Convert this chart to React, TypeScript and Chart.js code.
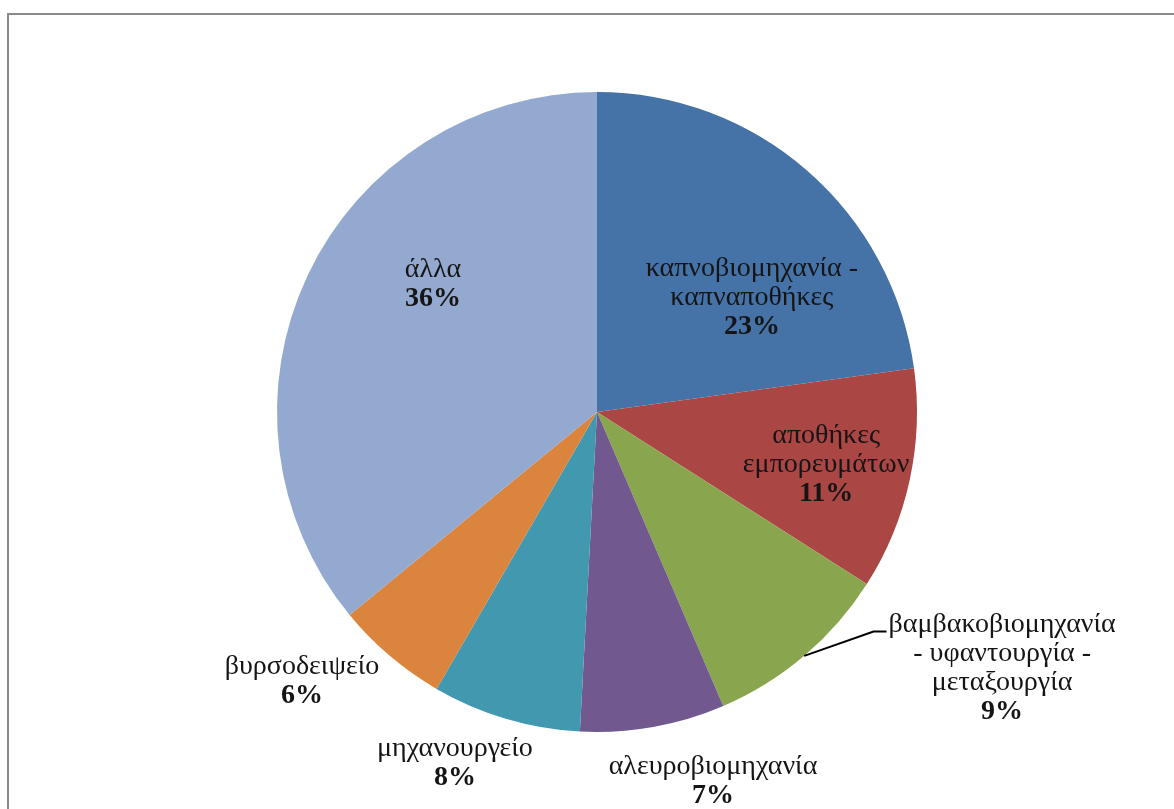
import React, { useEffect, useRef } from "react";
import Chart from "chart.js/auto";

const categories = [
  "καπνοβιομηχανία -\nκαπναποθήκες",
  "αποθήκες\nεμπορευμάτων",
  "βαμβακοβιομηχανία\n- υφαντουργία -\nμεταξουργία",
  "αλευροβιομηχανία",
  "μηχανουργείο",
  "βυρσοδειψείο",
  "άλλα",
];
const values = [22.8, 11.2, 9.5, 7.3, 7.5, 5.7, 35.9];
const percentLabels = ["23%", "11%", "9%", "7%", "8%", "6%", "36%"];
const colors = ["#4572A7", "#AA4643", "#89A54E", "#71588F", "#4198AF", "#DB843D", "#93A9CF"];

// label placement relative to pie centre, in units of the radius
const labelOffsets: [number, number][] = [
  [0.484, -0.356],
  [0.716, 0.166],
  [1.266, 0.8],
  [0.3625, 1.153],
  [-0.444, 1.097],
  [-0.922, 0.84],
  [-0.5125, -0.4],
];
const leaderSlices = [2];

const FONT = '"Liberation Serif", "DejaVu Serif", serif';
const FONT_SIZE = 28;
const LINE_H = 29;

const labelPlugin = {
  id: "sliceLabels",
  afterDatasetsDraw(chart: any) {
    const ctx = chart.ctx;
    const meta = chart.getDatasetMeta(0);
    ctx.save();
    ctx.textAlign = "center";
    ctx.textBaseline = "middle";
    ctx.fillStyle = "#151515";
    meta.data.forEach((arc: any, i: number) => {
      const { x, y, outerRadius, startAngle, endAngle } = arc.getProps(
        ["x", "y", "outerRadius", "startAngle", "endAngle"],
        true
      );
      const cx = x + labelOffsets[i][0] * outerRadius;
      const cy = y + labelOffsets[i][1] * outerRadius;
      const lines = categories[i].split("\n");
      const n = lines.length + 1;
      const top = cy - ((n - 1) / 2) * LINE_H;
      ctx.font = `${FONT_SIZE}px ${FONT}`;
      lines.forEach((t, k) => ctx.fillText(t, cx, top + k * LINE_H));
      ctx.font = `bold ${FONT_SIZE}px ${FONT}`;
      ctx.fillText(percentLabels[i], cx, top + lines.length * LINE_H);
      if (leaderSlices.includes(i)) {
        ctx.font = `${FONT_SIZE}px ${FONT}`;
        const half = ctx.measureText(lines[0]).width / 2;
        const mid = (startAngle + endAngle) / 2;
        const sx = x + Math.cos(mid) * outerRadius;
        const sy = y + Math.sin(mid) * outerRadius;
        const ly = top + 7;
        const ex = cx - half - 2;
        ctx.beginPath();
        ctx.strokeStyle = "#000";
        ctx.lineWidth = 2;
        ctx.moveTo(sx, sy);
        ctx.lineTo(ex - 13, ly);
        ctx.lineTo(ex, ly);
        ctx.stroke();
      }
    });
    ctx.restore();
  },
};

export default function App() {
  const ref = useRef<HTMLCanvasElement | null>(null);
  useEffect(() => {
    if (!ref.current) return;
    const chart = new Chart(ref.current, {
      type: "pie",
      data: {
        labels: categories.map((c) => c.replace(/\n/g, " ")),
        datasets: [
          {
            data: values,
            backgroundColor: colors,
            borderWidth: 0,
          },
        ],
      },
      options: {
        responsive: false,
        animation: false,
        layout: { padding: { top: 92, bottom: 77, left: 277, right: 257 } },
        plugins: {
          legend: { display: false },
          tooltip: { enabled: false },
        },
      },
      plugins: [labelPlugin],
    });
    return () => chart.destroy();
  }, []);
  return (
    <div
      style={{
        position: "fixed",
        left: 0,
        top: 0,
        width: 1174,
        height: 809,
        overflow: "hidden",
        background: "#fff",
      }}
    >
      <div
        style={{
          position: "absolute",
          left: 7,
          top: 13,
          width: 1250,
          height: 900,
          border: "2px solid #8a8a8a",
          boxSizing: "border-box",
        }}
      />
      <canvas
        ref={ref}
        width={1174}
        height={809}
        style={{ position: "absolute", left: 0, top: 0, width: 1174, height: 809 }}
      />
    </div>
  );
}
